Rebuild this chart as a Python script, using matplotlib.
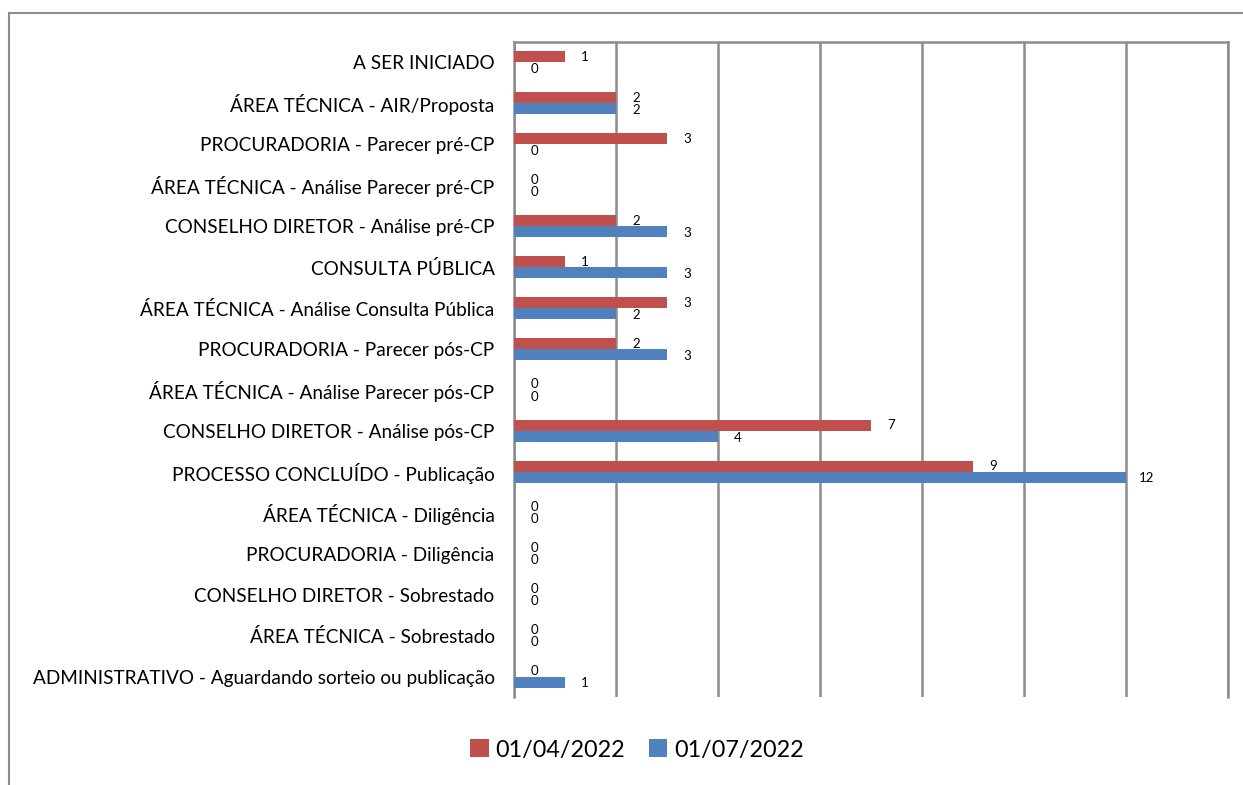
import matplotlib.pyplot as plt
from matplotlib.lines import Line2D
import numpy as np

plt.rcParams['font.family'] = ['Lato', 'DejaVu Sans']

categories = [
    'A SER INICIADO',
    'ÁREA TÉCNICA - AIR/Proposta',
    'PROCURADORIA - Parecer pré-CP',
    'ÁREA TÉCNICA - Análise Parecer pré-CP',
    'CONSELHO DIRETOR - Análise pré-CP',
    'CONSULTA PÚBLICA',
    'ÁREA TÉCNICA - Análise Consulta Pública',
    'PROCURADORIA - Parecer pós-CP',
    'ÁREA TÉCNICA - Análise Parecer pós-CP',
    'CONSELHO DIRETOR - Análise pós-CP',
    'PROCESSO CONCLUÍDO - Publicação',
    'ÁREA TÉCNICA - Diligência',
    'PROCURADORIA - Diligência',
    'CONSELHO DIRETOR - Sobrestado',
    'ÁREA TÉCNICA - Sobrestado',
    'ADMINISTRATIVO - Aguardando sorteio ou publicação',
]
abril = [1, 2, 3, 0, 2, 1, 3, 2, 0, 7, 9, 0, 0, 0, 0, 0]
julho = [0, 2, 0, 0, 3, 3, 2, 3, 0, 4, 12, 0, 0, 0, 0, 1]
series_names = ['01/04/2022', '01/07/2022']

red = '#C0504D'
blue = '#4F81BD'
grid_color = '#8C8C8C'

fig = plt.figure(figsize=(12.43, 7.85), dpi=100)
ax = fig.add_axes([514 / 1243, 1 - 697 / 785, (1228 - 514) / 1243, (697 - 42) / 785])

y = np.arange(len(categories))
h = 0.27
ax.barh(y - h / 2, abril, height=h, color=red, linewidth=0,
        label=series_names[0], zorder=3)
ax.barh(y + h / 2, julho, height=h, color=blue, linewidth=0,
        label=series_names[1], zorder=3)

# rótulos de dados
for yi, v in zip(y, abril):
    ax.annotate(str(v), (v, yi - h / 2), xytext=(14.5, 0), textcoords='offset points',
                ha='center', va='center', fontsize=9.5, zorder=4)
for yi, v in zip(y, julho):
    ax.annotate(str(v), (v, yi + h * 0.6), xytext=(14.5, 0), textcoords='offset points',
                ha='center', va='center', fontsize=9.5, zorder=4)

ax.set_xlim(0, 14)
ax.set_ylim(len(categories) - 0.5, -0.5)
ax.set_xticks(range(0, 15, 2))
ax.set_xticklabels([])
ax.tick_params(axis='x', length=0)
ax.xaxis.grid(True, color=grid_color, linewidth=1.8, zorder=0)
ax.set_yticks(y)
ax.set_yticklabels(categories, fontsize=13.7)
ax.tick_params(axis='y', length=0, pad=14)

for side in ['top', 'left', 'right']:
    ax.spines[side].set_color(grid_color)
    ax.spines[side].set_linewidth(1.8)
ax.spines['bottom'].set_visible(False)

fig.legend(loc='center', bbox_to_anchor=(637 / 1243, 1 - 750 / 785), ncol=2, frameon=False,
           fontsize=16.8, handlelength=0.8, handleheight=0.8, handletextpad=0.3,
           columnspacing=1.0)

# borda do gráfico (só aparece em cima e à esquerda)
fig.add_artist(Line2D([9 / 1243, 9 / 1243], [0, 1 - 13 / 785], transform=fig.transFigure,
                      color='#8C8C8C', linewidth=1.5))
fig.add_artist(Line2D([9 / 1243, 1], [1 - 13 / 785, 1 - 13 / 785], transform=fig.transFigure,
                      color='#8C8C8C', linewidth=1.5))

fig.savefig('out.png', dpi=100)
